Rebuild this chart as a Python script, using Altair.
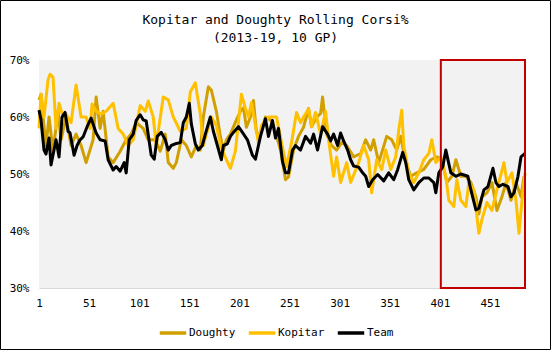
import altair as alt
import pandas as pd

MONO = "DejaVu Sans Mono"

players = ["Doughty", "Kopitar", "Team"]
colors = ["#D1A000", "#FFC000", "#000000"]
x_ticks = [1, 51, 101, 151, 201, 251, 301, 351, 401, 451]
y_ticks = [30, 40, 50, 60, 70]
x_domain = [1, 486]
y_domain = [30, 70]
box_games = [402, 486]
box_pcts = [30, 70]
title_lines = ["Kopitar and Doughty Rolling Corsi%", "(2013-19, 10 GP)"]

team_games = [1, 3, 6, 8, 11, 13, 16, 18, 21, 24, 27, 30, 32, 36, 39, 42, 45, 49, 53, 58,
              62, 67, 70, 75, 78, 82, 86, 88, 91, 95, 98, 102, 105, 108, 113, 116, 119, 123, 127, 130,
              133, 137, 142, 145, 148, 151, 153, 157, 160, 164, 167, 172, 175, 179, 183, 185, 189, 192, 195, 200,
              204, 209, 214, 217, 222, 227, 230, 234, 237, 240, 244, 247, 250, 254, 257, 262, 267, 272, 275, 279,
              284, 289, 292, 295, 299, 302, 305, 309, 312, 315, 320, 324, 327, 330, 334, 339, 345, 350, 355, 359,
              364, 367, 370, 375, 380, 385, 390, 395, 397, 400, 404, 407, 412, 417, 422, 429, 432, 437, 440, 445,
              449, 454, 457, 460, 464, 469, 472, 475, 479, 482, 486]
team_pct = [61.2, 59.5, 54.2, 53.5, 56.3, 51.6, 54.2, 56.0, 53.0, 60.0, 60.8, 57.5, 57.2, 53.3, 55.0, 56.0, 56.5, 58.3, 59.8, 57.2,
            56.0, 55.8, 52.5, 50.7, 51.3, 50.5, 52.0, 50.2, 56.0, 57.0, 59.4, 60.4, 59.5, 59.3, 53.3, 52.6, 56.6, 57.3, 56.0, 54.2,
            55.0, 55.3, 55.5, 59.0, 60.0, 62.4, 58.8, 55.3, 54.2, 55.0, 57.0, 60.0, 57.5, 55.0, 52.5, 55.0, 55.3, 56.6, 57.3, 58.3,
            57.3, 56.0, 53.3, 52.6, 56.6, 59.7, 56.6, 59.4, 56.3, 58.0, 52.2, 50.2, 50.2, 54.2, 55.0, 54.2, 56.6, 55.4, 57.0, 54.2,
            58.3, 57.0, 55.8, 57.0, 55.0, 57.2, 55.8, 54.2, 52.5, 51.4, 51.2, 50.2, 49.6, 47.8, 49.0, 49.9, 48.8, 50.2, 49.0, 50.8,
            53.8, 52.0, 49.0, 47.2, 48.5, 49.3, 49.3, 48.5, 46.7, 50.2, 51.3, 54.2, 50.2, 49.6, 50.0, 49.6, 47.2, 43.7, 44.0, 47.2,
            47.8, 51.0, 48.5, 47.8, 48.2, 47.8, 46.0, 46.7, 49.6, 53.0, 53.6]

kopitar_games = [1, 3, 6, 10, 12, 15, 18, 21, 25, 28, 33, 38, 43, 48, 52, 54, 58, 63, 68, 75,
                 80, 85, 90, 95, 102, 107, 110, 115, 118, 125, 130, 135, 142, 148, 152, 157, 162, 165, 168, 173,
                 178, 182, 188, 192, 197, 203, 207, 210, 213, 217, 220, 223, 230, 238, 243, 248, 253, 258, 262, 265,
                 270, 273, 277, 282, 287, 290, 295, 298, 302, 308, 312, 320, 325, 330, 333, 338, 343, 347, 352, 357,
                 360, 363, 365, 370, 375, 380, 385, 390, 393, 397, 402, 407, 410, 415, 418, 422, 427, 430, 435, 440,
                 443, 448, 453, 458, 465, 468, 473, 477, 480, 483, 486]
kopitar_pct = [58.0, 64.0, 60.0, 66.5, 67.5, 67.0, 58.0, 62.4, 60.0, 60.5, 59.0, 65.6, 60.0, 60.0, 58.0, 62.3, 61.0, 60.5, 61.0, 62.4,
               58.0, 57.0, 55.0, 56.0, 62.0, 61.0, 62.8, 60.0, 55.0, 63.5, 63.0, 60.0, 57.5, 58.0, 64.4, 66.0, 60.5, 55.0, 57.0, 60.0,
               58.5, 55.0, 52.5, 51.0, 54.0, 64.0, 61.5, 60.0, 62.5, 58.5, 55.5, 58.5, 60.0, 60.0, 55.5, 51.3, 55.5, 60.8, 59.0, 60.0,
               61.4, 58.3, 60.8, 57.0, 61.0, 56.0, 49.6, 53.0, 48.5, 52.0, 48.5, 52.0, 55.0, 52.5, 46.7, 52.5, 50.8, 54.2, 50.8, 53.0,
               57.7, 61.2, 55.0, 50.2, 48.5, 50.2, 52.5, 53.6, 56.0, 52.0, 53.0, 49.6, 45.4, 44.3, 49.0, 45.4, 44.3, 48.5, 47.2, 39.6,
               42.0, 45.0, 43.6, 47.2, 52.0, 48.5, 50.2, 45.4, 39.6, 45.4, 50.2]

doughty_games = [1, 3, 5, 8, 11, 15, 20, 23, 28, 33, 38, 43, 48, 55, 58, 62, 65, 70, 75, 82,
                 88, 93, 98, 105, 110, 117, 122, 127, 130, 135, 138, 143, 148, 153, 158, 162, 165, 170, 173, 178,
                 182, 185, 188, 192, 198, 202, 205, 208, 212, 215, 218, 222, 227, 232, 235, 242, 247, 250, 255, 260,
                 265, 270, 273, 278, 282, 284, 288, 293, 298, 303, 308, 315, 322, 327, 332, 335, 340, 348, 353, 358,
                 362, 367, 372, 378, 385, 392, 398, 403, 408, 413, 417, 422, 427, 432, 437, 440, 443, 448, 453, 458,
                 463, 467, 472, 477, 482, 485]
doughty_pct = [63.0, 64.0, 60.0, 55.0, 60.0, 54.0, 61.0, 56.0, 60.0, 55.0, 57.0, 55.0, 52.0, 56.0, 63.5, 58.0, 61.0, 53.0, 52.0, 54.0,
               56.0, 57.0, 59.0, 58.0, 56.0, 56.0, 54.0, 57.0, 52.0, 51.0, 52.0, 56.0, 55.0, 53.0, 55.0, 54.2, 60.0, 65.3, 64.7, 61.0,
               56.6, 54.2, 56.0, 57.0, 59.5, 61.0, 61.6, 58.2, 60.0, 62.9, 57.3, 57.0, 60.0, 59.5, 58.6, 54.2, 49.0, 49.5, 54.2, 56.6,
               58.2, 61.5, 58.3, 60.0, 60.6, 63.5, 57.0, 55.0, 54.2, 55.5, 55.0, 53.0, 53.6, 56.0, 54.2, 56.0, 52.0, 56.6, 56.0, 54.2,
               56.6, 52.0, 49.6, 50.2, 50.8, 52.5, 53.0, 52.5, 48.5, 49.6, 52.5, 49.6, 49.6, 48.5, 46.0, 43.0, 46.0, 46.7, 48.5, 43.6,
               46.0, 48.5, 45.4, 48.5, 46.0, 49.6]

rows = []
for name, gs, vs in [("Doughty", doughty_games, doughty_pct),
                     ("Kopitar", kopitar_games, kopitar_pct),
                     ("Team", team_games, team_pct)]:
    for g, v in zip(gs, vs):
        rows.append({"game": g, "pct": v, "player": name})
df = pd.DataFrame(rows)

box_df = pd.DataFrame({"game": [box_games[0]], "game_end": [box_games[1]],
                       "pct": [box_pcts[0]], "pct_end": [box_pcts[1]]})

x_axis = alt.Axis(values=x_ticks, title=None, grid=False, ticks=False, domainColor="#d9d9d9",
                  domainWidth=1, labelFont=MONO, labelFontSize=11, labelColor="black",
                  labelPadding=9, labelFlush=False)
y_axis = alt.Axis(values=y_ticks, title=None, grid=False, ticks=False, domain=False,
                  labelExpr="datum.value + '%'", labelFont=MONO, labelFontSize=11,
                  labelColor="black", labelPadding=10, labelFlush=False)
x_scale = alt.Scale(domain=x_domain, nice=False, zero=False)
y_scale = alt.Scale(domain=y_domain, nice=False, zero=False)

lines = alt.Chart(df).mark_line(strokeWidth=3, strokeJoin="round").encode(
    x=alt.X("game:Q", scale=x_scale, axis=x_axis),
    y=alt.Y("pct:Q", scale=y_scale, axis=y_axis),
    color=alt.Color("player:N", scale=alt.Scale(domain=players, range=colors),
                    legend=alt.Legend(title=None, orient="none", legendX=119, legendY=258,
                                      direction="horizontal", symbolType="stroke",
                                      symbolStrokeWidth=3.5, symbolSize=700,
                                      labelFont=MONO, labelFontSize=11, labelColor="black",
                                      labelOffset=1, columnPadding=5)),
)

box = alt.Chart(box_df).mark_rect(fillOpacity=0, stroke="#C00000", strokeWidth=2).encode(
    x=alt.X("game:Q", scale=x_scale, axis=x_axis),
    x2="game_end",
    y=alt.Y("pct:Q", scale=y_scale, axis=y_axis),
    y2="pct_end",
)

frame = alt.Chart(alt.Data(values=[{}])).mark_rect(fillOpacity=0, stroke="black", strokeWidth=1).encode(
    x=alt.value(-38.5), x2=alt.value(511.5), y=alt.value(-59.5), y2=alt.value(289.5)
)

title1 = alt.Chart(alt.Data(values=[{"t": title_lines[0]}])).mark_text(
    font=MONO, fontSize=13, color="black", align="center", baseline="alphabetic"
).encode(text="t:N", x=alt.value(236.5), y=alt.value(-36.5))

title2 = alt.Chart(alt.Data(values=[{"t": title_lines[1]}])).mark_text(
    font=MONO, fontSize=13, color="black", align="center", baseline="alphabetic"
).encode(text="t:N", x=alt.value(236.5), y=alt.value(-18))

chart = alt.layer(lines, box, frame, title1, title2).properties(
    width=486, height=228,
    padding={"left": 39, "top": 60, "right": 26, "bottom": 62},
    autosize=alt.AutoSizeParams(type="none"),
    background="white",
).configure_view(fill="#f2f2f2", strokeWidth=0)

chart.save("out.html", embed_options={"renderer": "svg", "actions": False})
